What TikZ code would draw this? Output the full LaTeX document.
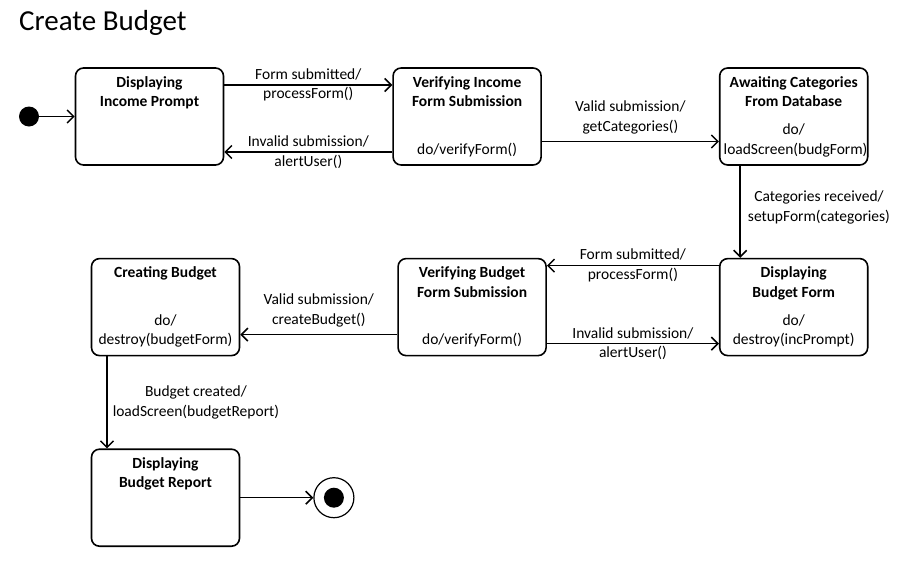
\documentclass[tikz,border=0pt]{standalone}
\usepackage{fontspec}
\setmainfont{Carlito}
\usepackage{xcolor}
\usetikzlibrary{arrows.meta, positioning}

% title on top, activity at the bottom of a state box
\newcommand{\stateinner}[2]{%
    \begin{minipage}[c][78pt][s]{140pt}\centering
        {\bfseries #1\par}\vfill
        #2\par
    \end{minipage}}

\begin{document}
\begin{tikzpicture}[
        x=1pt, y=1pt,
        font=\fontsize{15.5}{19.5}\selectfont,
        statebox/.style={
            rectangle,
            rounded corners=8pt,
            draw=black,
            line width=1.6pt,
            minimum width=148pt,
            minimum height=97pt,
            inner sep=4pt
        },
        trans/.style={
            -{Straight Barb[length=6.5pt, width=13pt]},
            line width=1.5pt
        },
        lbl/.style={
            align=center,
            inner sep=3pt
        },
        startdot/.style={
            circle,
            fill=black,
            minimum size=20pt,
            inner sep=0pt
        },
        endring/.style={
            circle,
            draw=black,
            line width=1.2pt,
            minimum size=40pt,
            inner sep=0pt
        }
    ]

    \fill[white] (0,0) rectangle (904,-560);

    % Title
    \node[anchor=base west, inner sep=0pt, font=\fontsize{29}{34}\selectfont] (title) at (19,-30.5) {Create Budget};

    % Nodes
    \node[statebox] (inc) at (149.5,-116.5) {\stateinner{Displaying\\Income Prompt}{}};
    \node[statebox, right=168pt of inc] (vinc) {\stateinner{Verifying Income\\Form Submission}{do/verifyForm()}};
    \node[statebox, right=177pt of vinc] (cat) {\stateinner{Awaiting Categories\\From Database}{do/\\loadScreen(budgForm)}};
    \node[statebox, below=92pt of cat] (bform) {\stateinner{Displaying\\Budget Form}{do/\\destroy(incPrompt)}};
    \node[statebox, left=172pt of bform] (vbud) {\stateinner{Verifying Budget\\Form Submission}{do/verifyForm()}};
    \node[statebox, left=157pt of vbud] (create) {\stateinner{Creating Budget}{do/\\destroy(budgetForm)}};
    \node[statebox, below=92pt of create] (report) {\stateinner{Displaying\\Budget Report}{}};

    \node[startdot, left=35.5pt of inc] (start) {};
    \node[endring, right=73pt of report] (final) {};
    \node[startdot] (finaldot) at (final) {};

    % Arrows
    \draw[trans] (start) -- (inc);
    \draw[trans] ([yshift=31.5pt]inc.east) -- ([yshift=31.5pt]inc.east -| vinc.west)
        node[lbl, midway] {Form submitted/\\processForm()};
    \draw[trans] ([yshift=-35.5pt]inc.east -| vinc.west) -- ([yshift=-35.5pt]inc.east)
        node[lbl, midway] {Invalid submission/\\alertUser()};
    \draw[trans] ([yshift=-25pt]vinc.east) -- ([yshift=-25pt]vinc.east -| cat.west)
        node[lbl, midway, above=4pt] {Valid submission/\\getCategories()};
    \draw[trans] ([xshift=-53.5pt]cat.south) -- ([xshift=-53.5pt]cat.south |- bform.north)
        node[lbl, pos=0.45, right=4pt] {Categories received/\\setupForm(categories)};
    \draw[trans] ([yshift=41.5pt]bform.west) -- ([yshift=41.5pt]bform.west -| vbud.east)
        node[lbl, midway] {Form submitted/\\processForm()};
    \draw[trans] ([yshift=-36.5pt]bform.west -| vbud.east) -- ([yshift=-36.5pt]bform.west)
        node[lbl, midway] {Invalid submission/\\alertUser()};
    \draw[trans] ([yshift=-27.5pt]vbud.west) -- ([yshift=-27.5pt]vbud.west -| create.east)
        node[lbl, midway, above=4pt] {Valid submission/\\createBudget()};
    \draw[trans] ([xshift=-58.5pt]create.south) -- ([xshift=-58.5pt]create.south |- report.north)
        node[lbl, midway, right=2pt] {Budget created/\\loadScreen(budgetReport)};
    \draw[trans] (report) -- (final);

\end{tikzpicture}
\end{document}
